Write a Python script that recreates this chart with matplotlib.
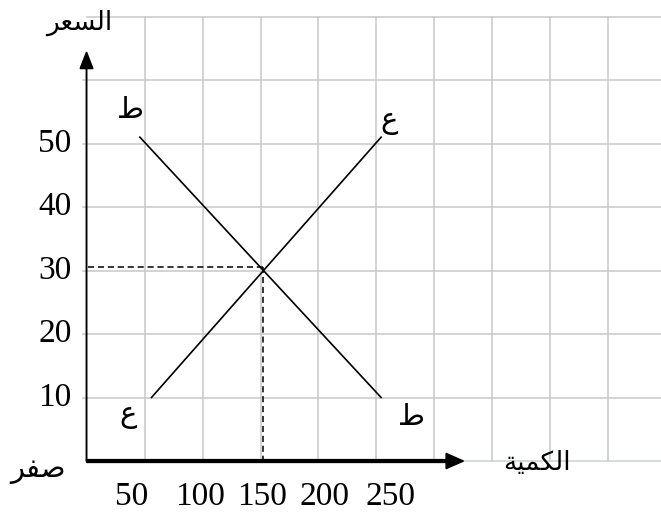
import matplotlib.pyplot as plt
from matplotlib.patches import FancyArrow

# الطلب (ط) والعرض (ع)
demand_q = [46, 254]
demand_p = [51, 10]
supply_q = [56, 254]
supply_p = [10, 51]
eq_q = 152
eq_p = 30.5

x_grid = [50, 100, 150, 200, 250, 300, 350, 400, 450]
y_grid = [10, 20, 30, 40, 50, 60, 70]
y_ticks = [10, 20, 30, 40, 50]
x_tick_labels = ["50", "100", "150", "200", "250"]
x_label_pos = [39, 98, 151, 205, 262]

# Arabic written in presentation forms, visual order (no shaping engine in mpl)
lbl_price = "\uFEAE\uFECC\uFEB4\uFEDF\uFE8D"          # السعر
lbl_qty = "\uFE94\uFEF4\uFEE4\uFEDC\uFEDF\uFE8D"      # الكمية
lbl_zero = "\uFEAE\uFED4\uFEBB"                       # صفر
lbl_d = "\u0637"                                      # ط
lbl_s = "\u0639"                                      # ع

serif = ["Liberation Serif", "DejaVu Serif"]
arab = ["DejaVu Sans"]

fig = plt.figure(figsize=(6.61, 5.15), dpi=100)
ax = fig.add_axes([0, 0, 1, 1])
ax.set_xlim(-74.6, 495.3)
ax.set_ylim(-8.5, 72.6)
ax.axis("off")

gc = "#c8c8c8"
for x in x_grid:
    ax.plot([x, x], [0, 70], color=gc, lw=1.1, zorder=1)
for y in y_grid:
    x0 = 0 if y == 70 else -3
    ax.plot([x0, 495.3], [y, y], color=gc, lw=1.1, zorder=1)
ax.plot([0, 495.3], [0, 0], color="#c9d0e0", lw=1.1, zorder=1)

# axes with arrows
ax.add_patch(FancyArrow(0, 0, 0, 64.4, width=0.45, head_width=11, head_length=2.6,
                        length_includes_head=True, color="black", zorder=4))
ax.add_patch(FancyArrow(0, 0, 325, 0, width=0.45, head_width=2.4, head_length=15,
                        length_includes_head=True, color="black", zorder=4))

ax.plot(demand_q, demand_p, color="black", lw=1.2, zorder=3)
ax.plot(supply_q, supply_p, color="black", lw=1.2, zorder=3)
ax.plot([1, eq_q], [eq_p, eq_p], color="black", lw=1.1, ls=(0, (4, 2.5)), zorder=3)
ax.plot([eq_q, eq_q], [eq_p, 0], color="black", lw=1.1, ls=(0, (4, 2.5)), zorder=3)

for y in y_ticks:
    ax.text(-13, y, str(y), ha="right", va="center", fontsize=24, family=serif)
for x, s in zip(x_label_pos, x_tick_labels):
    ax.text(x, -5.6, s, ha="center", va="center", fontsize=24, family=serif)

ax.text(-6, 69, lbl_price, ha="center", va="center", fontsize=19, family=arab)
ax.text(388, -0.3, lbl_qty, ha="center", va="center", fontsize=19, family=arab)
ax.text(-42, -1.4, lbl_zero, ha="center", va="center", fontsize=21, family=arab)
ax.text(38, 55.3, lbl_d, ha="center", va="center", fontsize=21, family=arab)
ax.text(261, 53.6, lbl_s, ha="center", va="center", fontsize=21, family=arab)
ax.text(36, 7.3, lbl_s, ha="center", va="center", fontsize=21, family=arab)
ax.text(280, 6.9, lbl_d, ha="center", va="center", fontsize=21, family=arab)

fig.savefig("out.png", dpi=100)
